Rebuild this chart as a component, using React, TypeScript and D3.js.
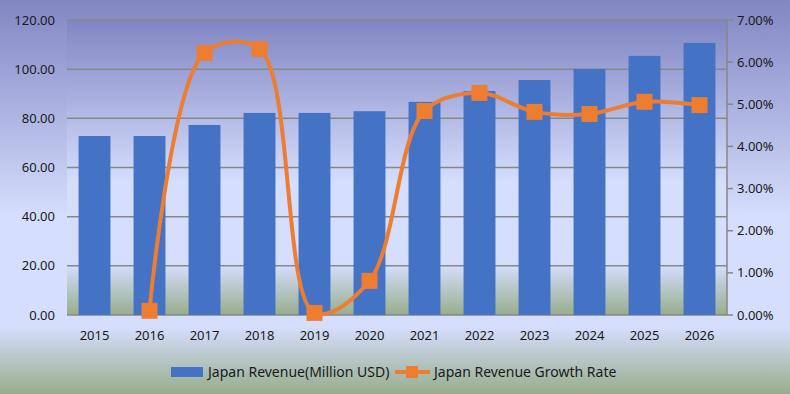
import React from "react";
import * as d3 from "d3";

const years = ["2015", "2016", "2017", "2018", "2019", "2020", "2021", "2022", "2023", "2024", "2025", "2026"];
const revenue = [72.8, 72.8, 77.3, 82.2, 82.2, 82.9, 86.7, 91.1, 95.6, 100.1, 105.4, 110.7];
// growth rate in %, first year has none
const growth = [null, 0.1, 6.22, 6.31, 0.05, 0.81, 4.84, 5.27, 4.82, 4.77, 5.06, 4.98];
const leftTicks = [0, 20, 40, 60, 80, 100, 120];
const rightTicks = [0, 1, 2, 3, 4, 5, 6, 7];

const W = 790;
const H = 394;
const M = { left: 67, right: 727, top: 20, bottom: 315 };
const FONT = "'Noto Sans', sans-serif";
const ORANGE = "#ED7D31";
const BLUE = "#4472C4";

export default function App() {
  const x = d3.scaleBand().domain(years).range([M.left, M.right]).paddingInner(0.42).paddingOuter(0.21);
  const yL = d3.scaleLinear().domain([0, 120]).range([M.bottom, M.top]);
  const yR = d3.scaleLinear().domain([0, 7]).range([M.bottom, M.top]);
  const cx = (yr: string) => (x(yr) ?? 0) + x.bandwidth() / 2;

  const pts = years
    .map((yr, i) => ({ yr, v: growth[i] }))
    .filter((d) => d.v != null) as { yr: string; v: number }[];

  // excel-style smoothing, centripetal keeps overshoot small
  const line = d3
    .line<{ yr: string; v: number }>()
    .x((d) => cx(d.yr))
    .y((d) => yR(d.v))
    .curve(d3.curveCatmullRom.alpha(0.5));

  return (
    <svg width={W} height={H} style={{ position: "absolute", left: 0, top: 0, fontFamily: FONT }}>
      <defs>
        <linearGradient id="bg" x1="0" y1="0" x2="0" y2="1">
          <stop offset="0" stopColor="#8186C3" />
          <stop offset="0.55" stopColor="#D5DEFD" />
          <stop offset="0.83" stopColor="#D5DEFD" />
          <stop offset="1" stopColor="#97AD8D" />
        </linearGradient>
      </defs>
      <rect x={0} y={0} width={W} height={H} fill="url(#bg)" />
      <rect x={M.left} y={M.top} width={M.right - M.left} height={M.bottom - M.top} fill="url(#bg)" />

      {leftTicks.map((t) => (
        <g key={t}>
          <line x1={M.left} x2={M.right} y1={yL(t)} y2={yL(t)} stroke="#878787" strokeWidth={1.5} />
          <text x={55} y={yL(t)} dy="0.35em" textAnchor="end" fontSize={13} fill="#1a1a1a">
            {t.toFixed(2)}
          </text>
        </g>
      ))}

      {years.map((yr, i) => (
        <rect key={yr} x={x(yr)} y={yL(revenue[i])} width={x.bandwidth()} height={M.bottom - yL(revenue[i])} fill={BLUE} />
      ))}

      <line x1={M.right} x2={M.right} y1={M.top} y2={M.bottom} stroke="#878787" strokeWidth={1.5} />
      {rightTicks.map((t) => (
        <g key={t}>
          <line x1={M.right} x2={M.right + 6} y1={yR(t)} y2={yR(t)} stroke="#878787" strokeWidth={1.5} />
          <text x={737} y={yR(t)} dy="0.35em" fontSize={13} fill="#1a1a1a">
            {t.toFixed(2)}%
          </text>
        </g>
      ))}

      {years.map((yr) => (
        <text key={yr} x={cx(yr)} y={335} dy="0.35em" textAnchor="middle" fontSize={13} fill="#1a1a1a">
          {yr}
        </text>
      ))}

      <path d={line(pts) ?? ""} fill="none" stroke={ORANGE} strokeWidth={4} />
      {pts.map((d) => (
        <rect key={d.yr} x={cx(d.yr) - 8} y={yR(d.v) - 8} width={16} height={16} fill={ORANGE} />
      ))}

      <g fontSize={14} fill="#1a1a1a">
        <rect x={171} y={367} width={32} height={10} fill={BLUE} />
        <text x={208} y={372} dy="0.35em">Japan Revenue(Million USD)</text>
        <line x1={395} x2={430} y1={372} y2={372} stroke={ORANGE} strokeWidth={4} />
        <rect x={406} y={366} width={12} height={12} fill={ORANGE} />
        <text x={434} y={372} dy="0.35em">Japan Revenue Growth Rate</text>
      </g>
    </svg>
  );
}
